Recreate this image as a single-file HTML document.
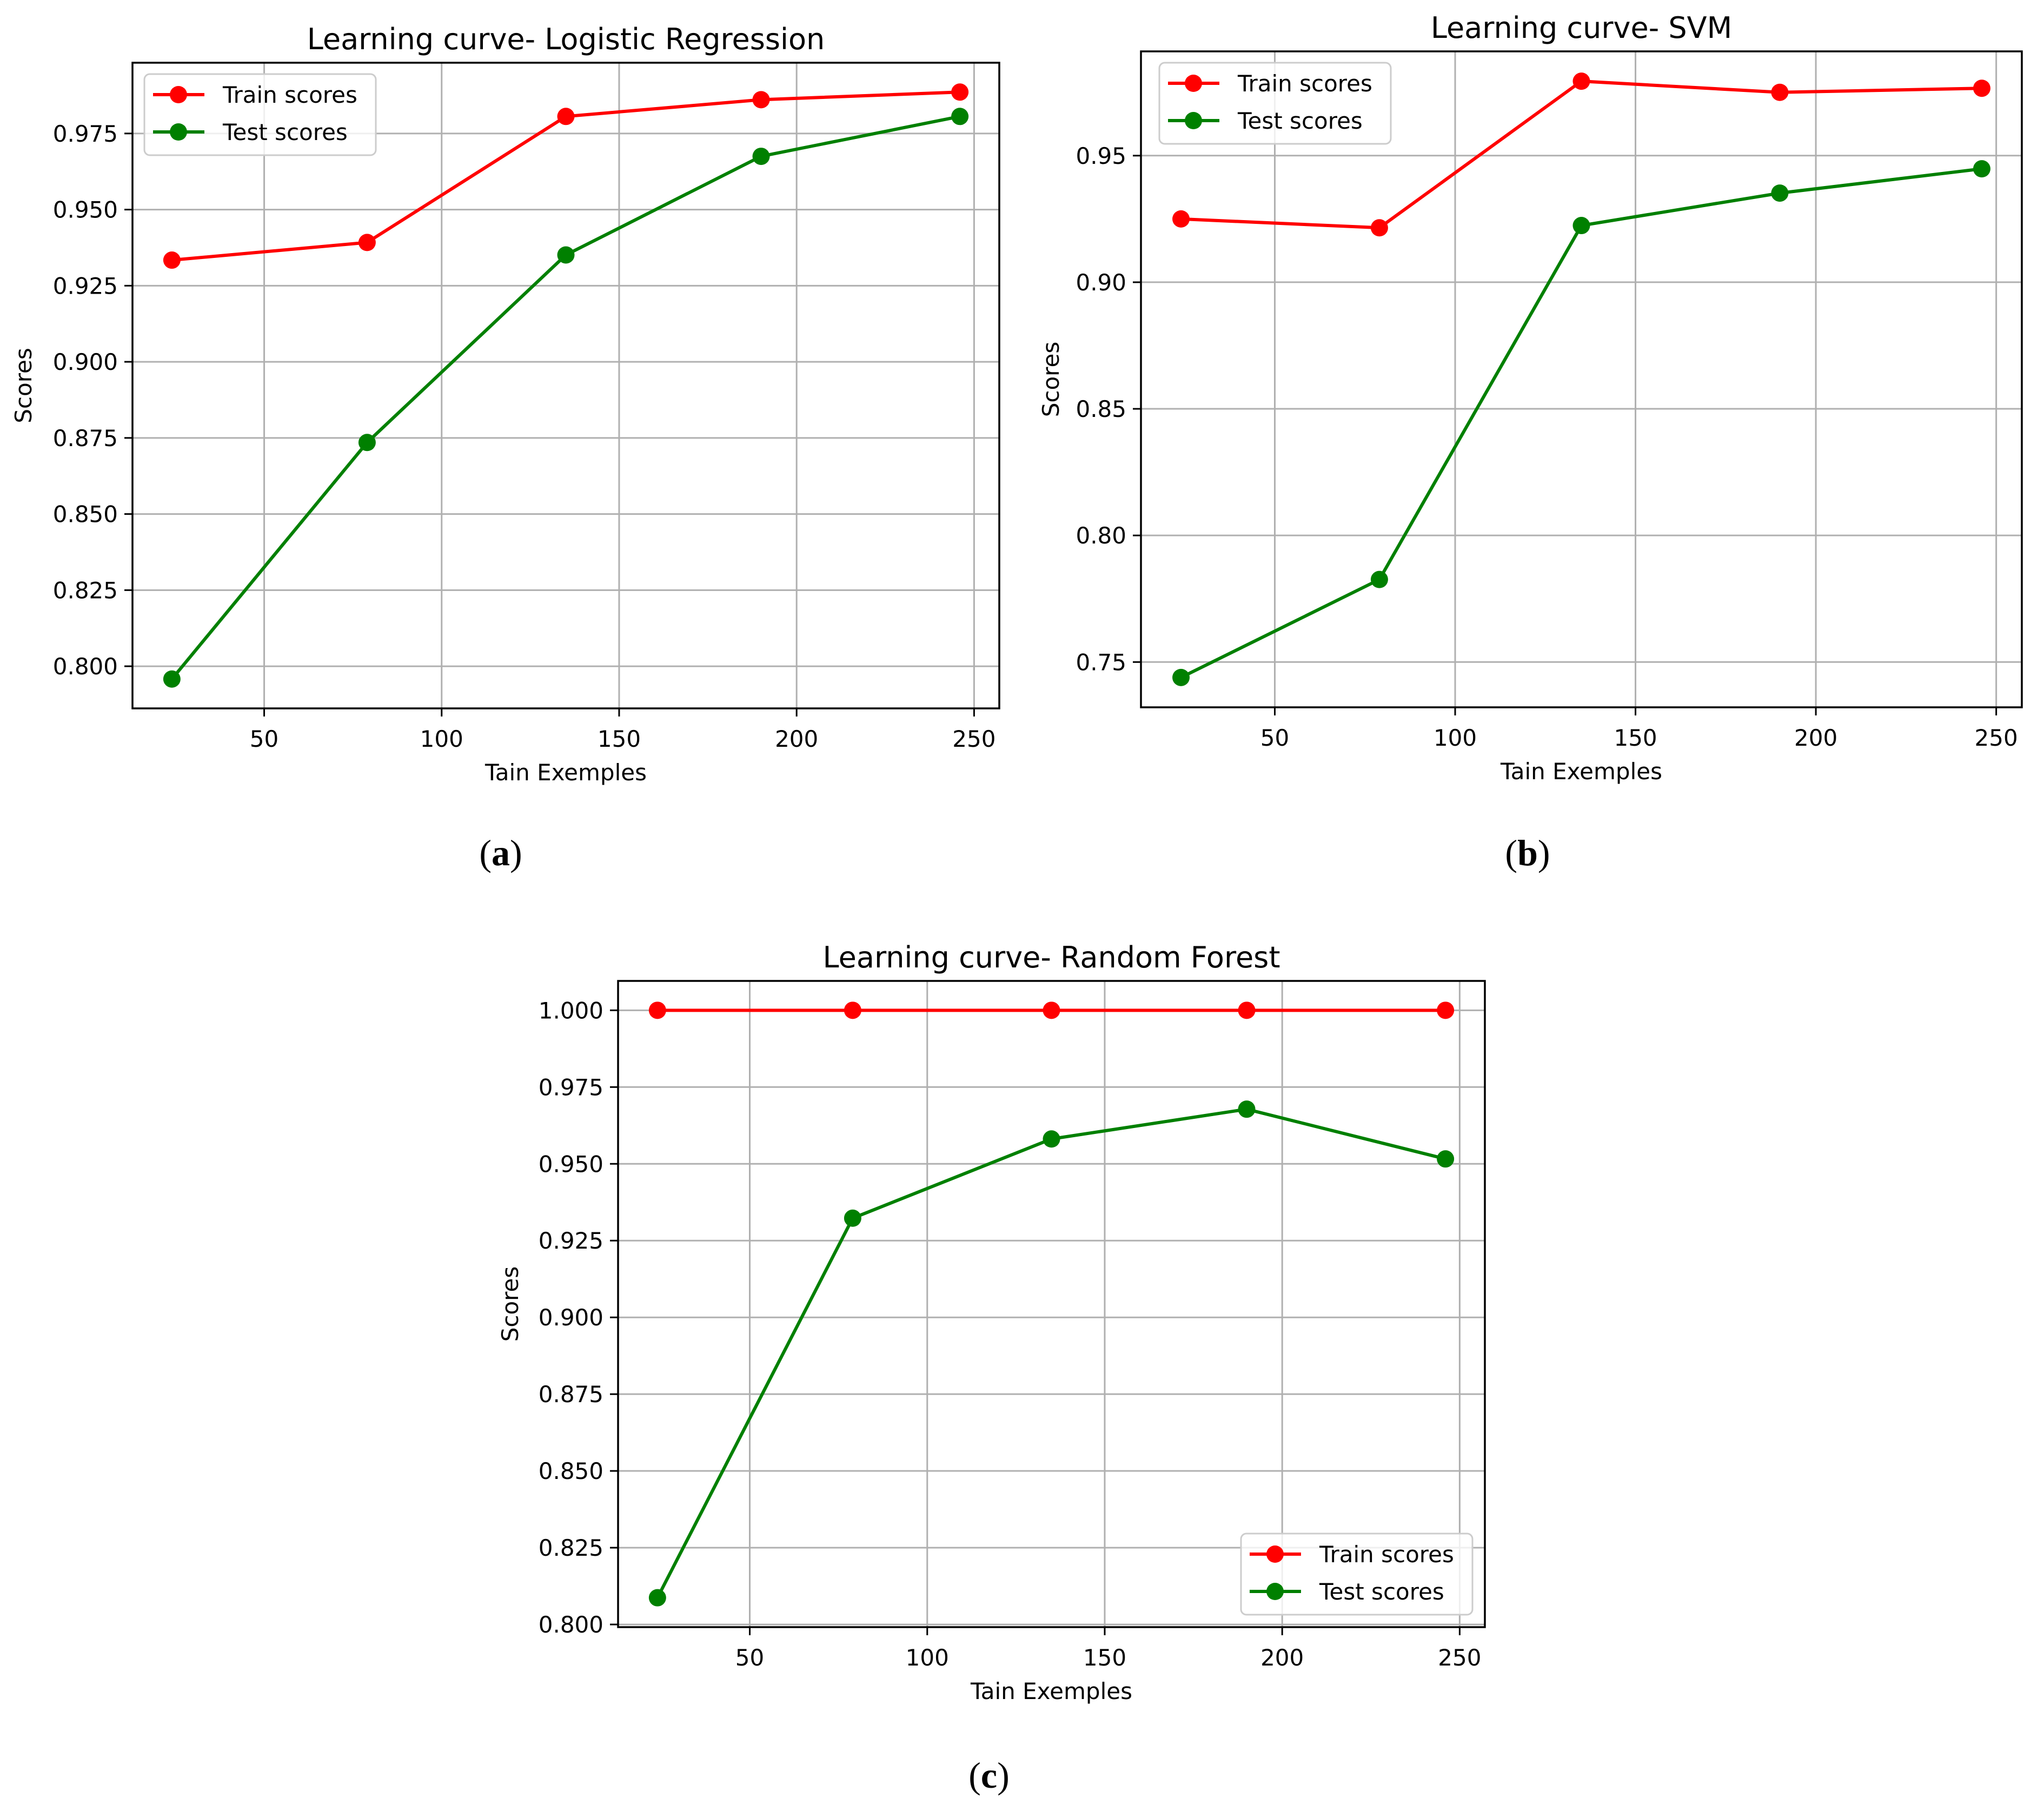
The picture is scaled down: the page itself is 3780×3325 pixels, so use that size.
<!DOCTYPE html>
<html><head><meta charset="utf-8"><style>
html,body{margin:0;padding:0;background:#fff}
svg{display:block}
text{font-family:"DejaVu Sans","Liberation Sans",sans-serif}
text.cap{font-family:"Liberation Serif","DejaVu Serif",serif}
</style></head><body>
<svg id="fig" xmlns="http://www.w3.org/2000/svg" width="3780" height="3325" viewBox="0 0 3780 3325"></svg>
<script>
const trainSizes = [24, 79, 135, 190, 246];
const lrTrain = [0.9334, 0.9392, 0.9806, 0.9861, 0.9886];
const lrTest = [0.7958, 0.8735, 0.9351, 0.9675, 0.9806];
const svmTrain = [0.9250, 0.9215, 0.9794, 0.9750, 0.9766];
const svmTest = [0.7439, 0.7826, 0.9224, 0.9352, 0.9448];
const rfTrain = [1.0, 1.0, 1.0, 1.0, 1.0];
const rfTest = [0.8087, 0.9323, 0.9581, 0.9678, 0.9516];
const xTickValues = [50, 100, 150, 200, 250];
const lrYTicks = [0.800, 0.825, 0.850, 0.875, 0.900, 0.925, 0.950, 0.975];
const svmYTicks = [0.75, 0.80, 0.85, 0.90, 0.95];
const rfYTicks = [0.800, 0.825, 0.850, 0.875, 0.900, 0.925, 0.950, 0.975, 1.000];

const NS = "http://www.w3.org/2000/svg";
const fig = document.getElementById('fig');
function mk(tag, attrs, parent, txt){
  const e = document.createElementNS(NS, tag);
  for (const k in attrs) e.setAttribute(k, attrs[k]);
  if (txt !== undefined) e.textContent = txt;
  (parent || fig).appendChild(e);
  return e;
}
function range(a){let mn=Math.min(...a),mx=Math.max(...a);return [mn,mx];}

function drawPanel(cfg){
  const g = mk('g', {});
  
  
  const L=cfg.left,R=cfg.right,T=cfg.top,B=cfg.bottom;
  const [xmn,xmx]=range(trainSizes); const xm=(xmx-xmn)*0.05;
  const x0=xmn-xm,x1=xmx+xm;
  const all=cfg.train.concat(cfg.test); const [ymn,ymx]=range(all); const ym=(ymx-ymn)*0.05;
  const y0=ymn-ym,y1=ymx+ym;
  const sx=v=>L+(v-x0)/(x1-x0)*(R-L);
  const sy=v=>B-(v-y0)/(y1-y0)*(B-T);
  cfg.yTicks.forEach(t=>{
    const y=sy(t);
    const gl=mk('line',{x1:L,x2:R,y1:y,y2:y,stroke:'#b0b0b0','stroke-width':3},g);
    
    
    const tk=mk('line',{x1:L-15,x2:L,y1:y,y2:y,stroke:'#000','stroke-width':3},g);
    
    
    const lb=mk('text',{x:L-27,y:y+15,'font-size':42,'text-anchor':'end',fill:'#000'},g,cfg.yFmt(t));
    
    
  });
  xTickValues.forEach(t=>{
    const x=sx(t);
    const gl=mk('line',{x1:x,x2:x,y1:T,y2:B,stroke:'#b0b0b0','stroke-width':3},g);
    
    
    const tk=mk('line',{x1:x,x2:x,y1:B,y2:B+15,stroke:'#000','stroke-width':3},g);
    
    
    const lb=mk('text',{x:x,y:B+71,'font-size':42,'text-anchor':'middle',fill:'#000'},g,String(t));
    
    
  });
  [[cfg.train,'#ff0000','train-scores'],[cfg.test,'#008000','test-scores']].forEach(([vals,col,nm])=>{
    const pts=vals.map((v,i)=>sx(trainSizes[i])+','+sy(v)).join(' ');
    const pl=mk('polyline',{points:pts,fill:'none',stroke:col,'stroke-width':6,'stroke-linejoin':'round'},g);
    
    
    vals.forEach((v,i)=>{
      const c=mk('circle',{cx:sx(trainSizes[i]),cy:sy(v),r:16,fill:col},g);
      
      
    });
  });
  const fr=mk('rect',{x:L,y:T,width:R-L,height:B-T,fill:'none',stroke:'#000','stroke-width':3.5},g);
  
  
  const lg=mk('g',{},g);
  
  
  const lx=cfg.legX, ly=cfg.legY;
  mk('rect',{x:lx,y:ly,width:428,height:150,rx:10,fill:'#fff','fill-opacity':0.8,stroke:'#cccccc','stroke-width':3},lg);
  [['Train scores','#ff0000',38],['Test scores','#008000',107]].forEach(([t,col,dy])=>{
    const e=mk('g',{},lg);
    
    
    mk('line',{x1:lx+16,x2:lx+111,y1:ly+dy,y2:ly+dy,stroke:col,'stroke-width':6},e);
    mk('circle',{cx:lx+63,cy:ly+dy,r:16,fill:col},e);
    mk('text',{x:lx+145,y:ly+dy+15,'font-size':42,fill:'#000'},e,t);
  });
  const cx=(L+R)/2;
  const tt=mk('text',{x:cx,y:T-25,'font-size':54,'text-anchor':'middle',fill:'#000'},g,cfg.title);
  
  
  const xl=mk('text',{x:cx,y:B+133,'font-size':42,'text-anchor':'middle',fill:'#000'},g,'Tain Exemples');
  
  
  const yx=cfg.ylabX, yy=(T+B)/2;
  const yl=mk('text',{x:yx,y:yy,'font-size':42,'text-anchor':'middle',fill:'#000',transform:`rotate(-90 ${yx} ${yy})`},g,'Scores');
  
  
  const cap=mk('text',{x:cfg.capX,y:cfg.capY,'font-size':68,'text-anchor':'middle',fill:'#000','class':'cap'},g,'');
  
  
  mk('tspan',{},cap,'(');
  mk('tspan',{'font-weight':'bold'},cap,cfg.cap);
  mk('tspan',{},cap,')');
}

drawPanel({name:'panel-logistic-regression',left:245,right:1848,top:116,bottom:1310,train:lrTrain,test:lrTest,yTicks:lrYTicks,yFmt:v=>v.toFixed(3),legX:267,legY:137,title:'Learning curve- Logistic Regression',ylabX:58,capX:926,capY:1600,cap:'a'});
drawPanel({name:'panel-svm',left:2110,right:3739,top:95,bottom:1308,train:svmTrain,test:svmTest,yTicks:svmYTicks,yFmt:v=>v.toFixed(2),legX:2144,legY:116,title:'Learning curve- SVM',ylabX:1958,capX:2825,capY:1600,cap:'b'});
drawPanel({name:'panel-random-forest',left:1143,right:2746,top:1814,bottom:3009,train:rfTrain,test:rfTest,yTicks:rfYTicks,yFmt:v=>v.toFixed(3),legX:2295,legY:2836,title:'Learning curve- Random Forest',ylabX:958,capX:1829,capY:3306,cap:'c'});
</script>
</body></html>
